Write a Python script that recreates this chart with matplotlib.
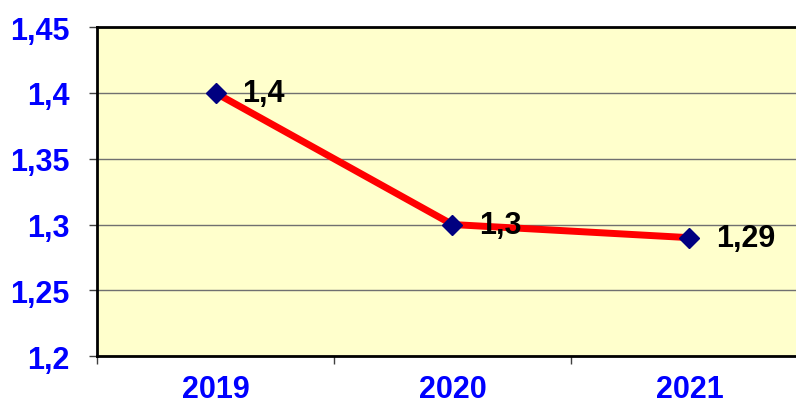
import matplotlib.pyplot as plt
from matplotlib.ticker import FuncFormatter, FixedLocator

plt.rcParams['font.family'] = ['Liberation Sans', 'DejaVu Sans']

years = ['2019', '2020', '2021']
values = [1.40, 1.30, 1.29]
labels = ['1,4', '1,3', '1,29']

fig = plt.figure(figsize=(7.96, 4.10), dpi=100)
ax = fig.add_axes([0.1219, 0.129, 0.893, 0.8024])
ax.set_facecolor('#FFFFCC')

x = list(range(len(years)))
ax.plot(x, values, color='#FF0000', lw=5, marker='D', markersize=10,
        markerfacecolor='#000080', markeredgecolor='#000080', zorder=3)

for xi, v, lab in zip(x, values, labels):
    ax.annotate(lab, (xi, v), xytext=(19, 0), textcoords='offset points',
                ha='left', va='center', fontsize=22, fontweight='bold',
                color='black', zorder=4)

ax.set_xlim(-0.5, 2.5)
ax.set_ylim(1.2, 1.45)
ax.set_yticks([1.2, 1.25, 1.3, 1.35, 1.4, 1.45])
ax.yaxis.set_major_formatter(FuncFormatter(lambda v, p: ('%g' % v).replace('.', ',')))
ax.yaxis.grid(True, color='#707070', lw=1)
ax.set_axisbelow(True)

ax.set_xticks(x)
ax.set_xticklabels(years)
ax.xaxis.set_minor_locator(FixedLocator([-0.5, 0.5, 1.5, 2.5]))
ax.tick_params(axis='x', which='major', length=0, pad=13)
ax.tick_params(axis='x', which='minor', length=6, width=1, color='#404040', direction='out')
ax.tick_params(axis='y', length=6, width=1, color='#404040', direction='out', pad=14)

for lab in ax.get_xticklabels() + ax.get_yticklabels():
    lab.set_color('#0000FF')
    lab.set_fontweight('bold')
    lab.set_fontsize(22)

for s in ['left', 'bottom', 'top']:
    ax.spines[s].set_color('black')
    ax.spines[s].set_linewidth(2)
ax.spines['right'].set_visible(False)

fig.savefig('out.png', dpi=100, facecolor='white')
